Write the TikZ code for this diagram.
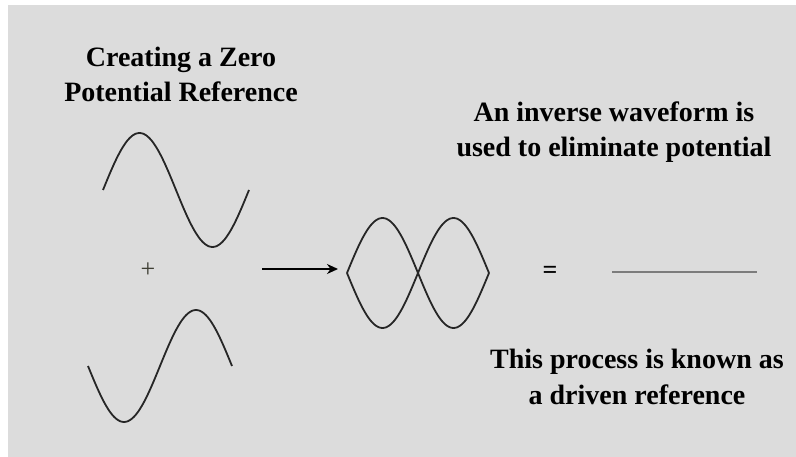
\documentclass[tikz,border=0pt]{standalone}
\usepackage{fontspec}
\setmainfont{Liberation Serif}
\usetikzlibrary{arrows.meta}
\definecolor{panel}{HTML}{DCDCDC}
\definecolor{plusgray}{HTML}{3F3F34}
\definecolor{flatgray}{HTML}{7C7C7C}

\begin{document}
\begin{tikzpicture}[x=1pt, y=-1pt, >={Stealth[length=11pt, width=10pt]},
    every node/.style={inner sep=0pt},
    caption/.style={font=\bfseries\fontsize{28}{35.5}\selectfont, align=center, anchor=base},
    wave/.style={line width=1.8pt, black!85},
    sign/.style={font=\fontsize{26}{30}\selectfont}]
  \useasboundingbox (0,0) rectangle (796,457);
  \fill[white] (0,0) rectangle (796,457);
  \fill[panel] (8,5) rectangle (796,457);

  % anchor=base sits on the last line
  \node[caption] (title)   at (181,102) {Creating a Zero\\Potential Reference};
  \node[caption] (inverse) at (614,157) {An inverse waveform is\\used to eliminate potential};
  \node[caption] (driven)  at (637,404) {This process is known as\\a driven reference};

  % the two input waves
  \draw[wave] plot[domain=0:360, samples=73, smooth] ({103+\x/360*146}, {190-57*sin(\x)});
  \draw[wave] plot[domain=0:360, samples=73, smooth] ({88+\x/360*144}, {366+56*sin(\x)});
  \node[sign, text=plusgray] (plus) at (148,270) {+};

  \coordinate (tail) at (262,269);
  \coordinate (head) at (338,269);
  \draw[->, line width=2pt] (tail) -- (head);

  % superimposed result
  \foreach \s in {1,-1} {
    \draw[wave] plot[domain=0:360, samples=73, smooth] ({347+\x/360*142}, {273-\s*55*sin(\x)});
  }
  \node[sign] (equals) at (550,272) {\bfseries =};
  \coordinate (flatL) at (612,272);
  \coordinate (flatR) at (757,272);
  \draw[line width=2.2pt, flatgray] (flatL) -- (flatR);
\end{tikzpicture}
\end{document}
